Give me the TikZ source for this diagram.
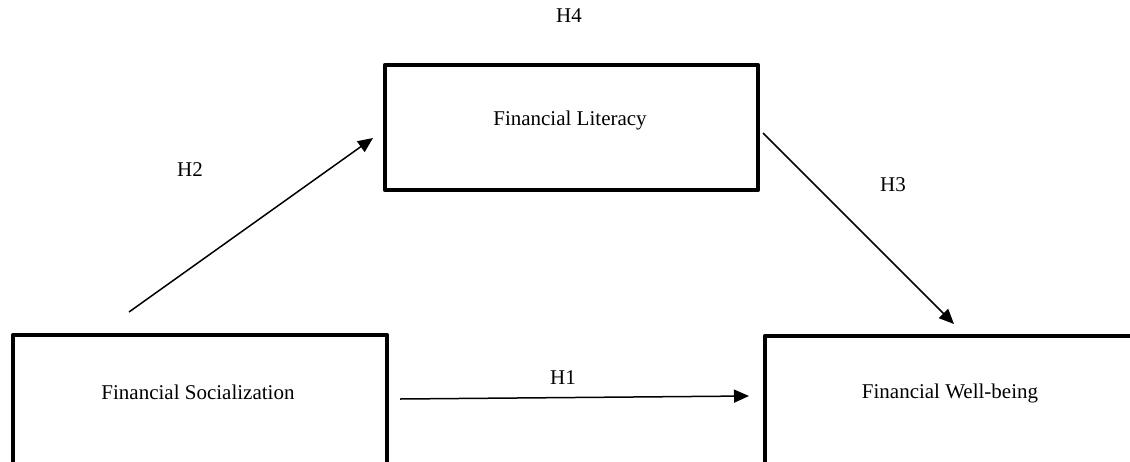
\documentclass[tikz,border=0pt]{standalone}
\usepackage{fontspec}
\setmainfont{Liberation Serif}
\usetikzlibrary{arrows.meta}
\begin{document}
\begin{tikzpicture}[x=1pt,y=-1pt,
  boxline/.style={draw=black,line width=4.5pt,line join=round},
  lbl/.style={font=\fontsize{21}{25}\selectfont,inner sep=0pt},
  conn/.style={line width=1.5pt,-{Triangle[length=15pt,width=13pt]}}]
\useasboundingbox (0,0) rectangle (1130,461);
\clip (0,0) rectangle (1130,461);
\fill[white] (0,0) rectangle (1130,461);
% boxes
\draw[boxline] (385,65) rectangle (758,190);
\draw[boxline] (13,335) rectangle (387,470);
\draw[boxline] (765,336) rectangle (1145,470);
% texts
\node[lbl] (fl) at (570,120) {Financial Literacy};
\node[lbl] (fs) at (198,392) {Financial Socialization};
\node[lbl] (fw) at (950,393) {Financial Well-being};
\node[lbl] (h4) at (569,16) {H4};
\node[lbl] (h2) at (190,170) {H2};
\node[lbl] (h3) at (893,185) {H3};
\node[lbl] (h1) at (563,378) {H1};
% connector end points
\coordinate (a2s) at (129,312);
\coordinate (a2e) at (373,138);
\coordinate (a3s) at (763,133);
\coordinate (a3e) at (954,324);
\coordinate (a1s) at (400,399);
\coordinate (a1e) at (749,396);
\draw[conn] (a2s) -- (a2e);
\draw[conn] (a3s) -- (a3e);
\draw[conn] (a1s) -- (a1e);
\end{tikzpicture}
\end{document}
